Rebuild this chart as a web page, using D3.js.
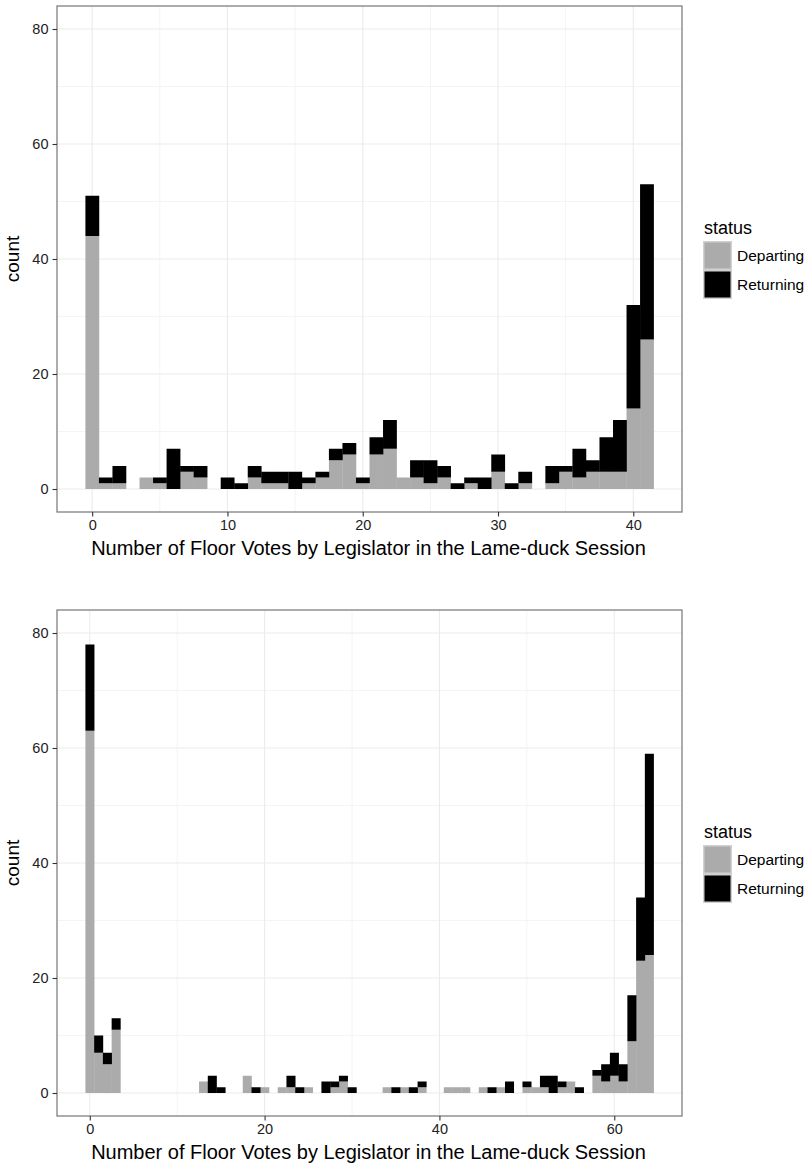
<!DOCTYPE html>
<html>
<head>
<meta charset="utf-8">
<script src="https://cdn.jsdelivr.net/npm/d3@7"></script>
<style>
  body { margin: 0; background: #fff; }
  svg text { font-family: "Liberation Sans", Arial, Helvetica, sans-serif; }
</style>
</head>
<body>
<div id="chart"></div>
<script>
// counts (binwidth 1, bins centred on whole numbers)

// top panel: 0..41 votes
var topBins = d3.range(0, 42);
var topDeparting = [44, 1, 1, 0, 2, 1, 0, 3, 2, 0,
                    0, 0, 2, 1, 1, 0, 1, 2, 5, 6,
                    1, 6, 7, 2, 2, 1, 2, 0, 1, 0,
                    3, 0, 1, 0, 1, 3, 2, 3, 3, 3,
                    14, 26];
var topReturning = [7, 1, 3, 0, 0, 1, 7, 1, 2, 0,
                    2, 1, 2, 2, 2, 3, 1, 1, 2, 2,
                    1, 3, 5, 0, 3, 4, 2, 1, 1, 2,
                    3, 1, 2, 0, 3, 1, 5, 2, 6, 9,
                    18, 27];
var topXTicks = [0, 10, 20, 30, 40];
var topXMinor = [5, 15, 25, 35];

// bottom panel: 0..64 votes
var bottomBins = d3.range(0, 65);
var bottomDeparting = [63, 7, 5, 11, 0, 0, 0, 0, 0, 0,
                       0, 0, 0, 2, 0, 0, 0, 0, 3, 0,
                       1, 0, 1, 1, 0, 1, 0, 0, 1, 2,
                       0, 0, 0, 0, 1, 0, 1, 0, 1, 0,
                       0, 1, 1, 1, 0, 1, 0, 1, 0, 0,
                       1, 1, 1, 0, 1, 2, 0, 0, 3, 2,
                       3, 2, 9, 23, 24];
var bottomReturning = [15, 3, 2, 2, 0, 0, 0, 0, 0, 0,
                       0, 0, 0, 0, 3, 1, 0, 0, 0, 1,
                       0, 0, 0, 2, 1, 0, 0, 2, 1, 1,
                       1, 0, 0, 0, 0, 1, 0, 1, 1, 0,
                       0, 0, 0, 0, 0, 0, 1, 0, 2, 0,
                       1, 0, 2, 3, 1, 0, 1, 0, 1, 3,
                       4, 3, 8, 11, 35];
var bottomXTicks = [0, 20, 40, 60];
var bottomXMinor = [10, 30, 50];

var yTicks = [0, 20, 40, 60, 80];
var yMinor = [10, 30, 50, 70];

var statusLevels = ["Departing", "Returning"];
var statusColors = ["#ababab", "#000000"];

var xTitle = "Number of Floor Votes by Legislator in the Lame-duck Session";

// page and panel sizes
var svgWidth = 808;
var svgHeight = 1165;
var panelLeft = 57;
var panelRight = 682;
var panelHeight = 506;

var svg = d3.select("#chart")
    .append("svg")
    .attr("width", svgWidth)
    .attr("height", svgHeight);

var color = d3.scaleOrdinal().domain(statusLevels).range(statusColors);

function drawPanel(top, bins, departing, returning, xTicks, xMinor) {
    var g = svg.append("g");
    var bottom = top + panelHeight;

    // ggplot style 5% padding round the data range
    var lo = d3.min(bins) - 0.5, hi = d3.max(bins) + 0.5;
    var pad = (hi - lo) * 0.05;
    var x = d3.scaleLinear().domain([lo - pad, hi + pad]).range([panelLeft, panelRight]);
    var y = d3.scaleLinear().domain([-4, 84]).range([bottom, top]);

    // grid
    g.selectAll(".minx").data(xMinor).enter().append("line")
        .attr("x1", d => x(d)).attr("x2", d => x(d))
        .attr("y1", top).attr("y2", bottom)
        .attr("stroke", "#f4f4f4").attr("stroke-width", 1);
    g.selectAll(".miny").data(yMinor).enter().append("line")
        .attr("x1", panelLeft).attr("x2", panelRight)
        .attr("y1", d => y(d)).attr("y2", d => y(d))
        .attr("stroke", "#f4f4f4").attr("stroke-width", 1);
    g.selectAll(".majx").data(xTicks).enter().append("line")
        .attr("x1", d => x(d)).attr("x2", d => x(d))
        .attr("y1", top).attr("y2", bottom)
        .attr("stroke", "#ebebeb").attr("stroke-width", 1.1);
    g.selectAll(".majy").data(yTicks).enter().append("line")
        .attr("x1", panelLeft).attr("x2", panelRight)
        .attr("y1", d => y(d)).attr("y2", d => y(d))
        .attr("stroke", "#ebebeb").attr("stroke-width", 1.1);

    // stacked bars
    var rows = bins.map((b, i) => ({ bin: b, Departing: departing[i], Returning: returning[i] }));
    var series = d3.stack().keys(statusLevels)(rows);

    g.selectAll(".layer").data(series).enter().append("g")
        .attr("fill", d => color(d.key))
        .selectAll("rect")
        .data(d => d.filter(s => s[1] > s[0]))
        .enter().append("rect")
        .attr("x", d => x(d.data.bin - 0.5))
        .attr("width", d => x(d.data.bin + 0.5) - x(d.data.bin - 0.5) + 0.3)
        .attr("y", d => y(d[1]))
        .attr("height", d => y(d[0]) - y(d[1]));

    // border
    g.append("rect")
        .attr("x", panelLeft).attr("y", top)
        .attr("width", panelRight - panelLeft).attr("height", panelHeight)
        .attr("fill", "none").attr("stroke", "#808080").attr("stroke-width", 1.3);

    // axes
    var xAxis = d3.axisBottom(x).tickValues(xTicks).tickSize(4.5).tickPadding(3);
    var yAxis = d3.axisLeft(y).tickValues(yTicks).tickSize(4.5).tickPadding(4);

    var gx = g.append("g").attr("transform", `translate(0, ${bottom})`).call(xAxis);
    var gy = g.append("g").attr("transform", `translate(${panelLeft}, 0)`).call(yAxis);
    [gx, gy].forEach(function (ax) {
        ax.select(".domain").remove();
        ax.selectAll(".tick line").attr("stroke", "#333").attr("stroke-width", 1.1);
        ax.selectAll(".tick text")
            .attr("fill", "#222")
            .style("font-size", "14.5px");
    });

    // titles
    g.append("text")
        .attr("x", (panelLeft + panelRight) / 2 - 1)
        .attr("y", bottom + 43)
        .attr("text-anchor", "middle")
        .style("font-size", "20px")
        .attr("fill", "#000")
        .text(xTitle);

    g.append("text")
        .attr("transform", `translate(19, ${top + panelHeight / 2}) rotate(-90)`)
        .attr("text-anchor", "middle")
        .style("font-size", "19px")
        .attr("fill", "#000")
        .text("count");

    // legend
    var lg = g.append("g").attr("transform", `translate(703, ${top + 216})`);
    lg.append("text")
        .attr("x", 1).attr("y", 12)
        .style("font-size", "18px")
        .text("status");
    statusLevels.forEach(function (s, i) {
        lg.append("rect")
            .attr("x", 0.75).attr("y", 19.75 + i * 29)
            .attr("width", 27.5).attr("height", 27.5)
            .attr("fill", color(s))
            .attr("stroke", "#d0d0d0").attr("stroke-width", 1.5);
        lg.append("text")
            .attr("x", 34).attr("y", 34 + i * 29)
            .attr("dy", "0.35em")
            .style("font-size", "15.5px")
            .text(s);
    });
}

drawPanel(6, topBins, topDeparting, topReturning, topXTicks, topXMinor);
drawPanel(610, bottomBins, bottomDeparting, bottomReturning, bottomXTicks, bottomXMinor);
</script>
</body>
</html>
